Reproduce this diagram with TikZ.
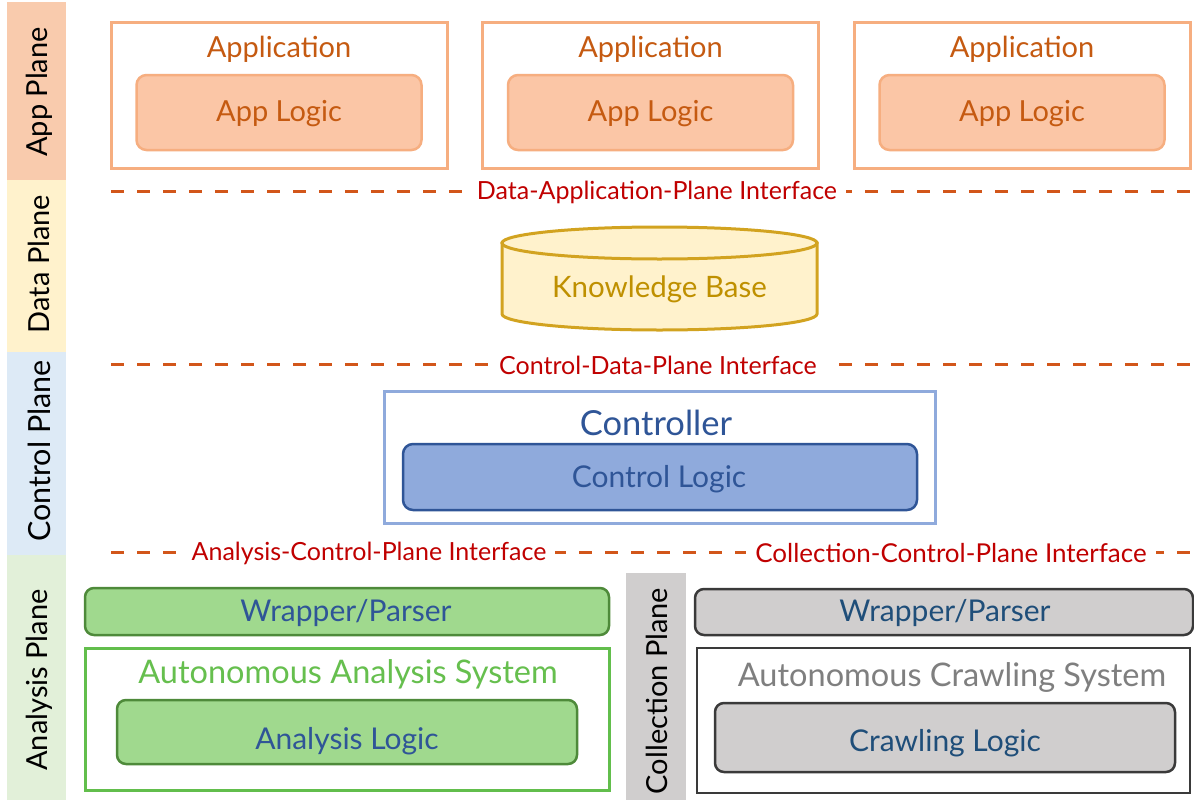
\documentclass[tikz,border=0pt]{standalone}
\usepackage{fontspec}
\setmainfont{Lato}
\definecolor{appband}{HTML}{F9CBAD}
\definecolor{databand}{HTML}{FFF2CC}
\definecolor{ctrlband}{HTML}{DDEAF6}
\definecolor{anaband}{HTML}{E2F0D9}
\definecolor{collband}{HTML}{D0CECE}
\definecolor{appborder}{HTML}{F6AE80}
\definecolor{apptext}{HTML}{C55A11}
\definecolor{applogicfill}{HTML}{FBC6A6}
\definecolor{dashcol}{HTML}{D2561A}
\definecolor{ifacetext}{HTML}{C00000}
\definecolor{kbfill}{HTML}{FFF2CC}
\definecolor{kbborder}{HTML}{D2A320}
\definecolor{kbtext}{HTML}{BF9000}
\definecolor{ctrlborder}{HTML}{8FAADC}
\definecolor{ctrltext}{HTML}{2F5597}
\definecolor{ctrlfill}{HTML}{8FAADC}
\definecolor{ctrldark}{HTML}{2F5597}
\definecolor{anafill}{HTML}{A0D98E}
\definecolor{anaborder}{HTML}{4E8A3A}
\definecolor{anabox}{HTML}{62BE4C}
\definecolor{anatitle}{HTML}{66BF4E}
\definecolor{collfill}{HTML}{D0CECE}
\definecolor{collborder}{HTML}{3A3A3A}
\definecolor{colltext}{HTML}{1F4E79}
\definecolor{colltitle}{HTML}{7F7F7F}
\begin{document}
\begin{tikzpicture}[x=1pt,y=-1pt,
  every node/.style={inner sep=0pt, outer sep=0pt},
  bandlabel/.style={rotate=90, font=\fontsize{29}{33}\selectfont, text=black},
  appouter/.style={draw=appborder, line width=3pt, fill=white},
  applogic/.style={draw=appborder, line width=2.5pt, fill=applogicfill, rounded corners=10pt},
  apptitle/.style={text=apptext, font=\fontsize{29}{33}\selectfont},
  iface/.style={text=ifacetext, fill=white, inner xsep=9pt, inner ysep=2pt, font=\fontsize{25}{29}\selectfont},
  dashline/.style={draw=dashcol, line width=3pt, dash pattern=on 13pt off 13pt},
  ctrlouter/.style={draw=ctrlborder, line width=3pt, fill=white},
  ctrllogic/.style={draw=ctrldark, line width=2.5pt, fill=ctrlfill, rounded corners=10pt},
  anabar/.style={draw=anaborder, line width=2.5pt, fill=anafill, rounded corners=9pt},
  anaouter/.style={draw=anabox, line width=3pt, fill=white},
  collbar/.style={draw=collborder, line width=2.5pt, fill=collfill, rounded corners=9pt},
  collouter/.style={draw=collborder, line width=2pt, fill=white},
  midtext/.style={font=\fontsize{30}{34}\selectfont},
  systext/.style={font=\fontsize{32.5}{36}\selectfont}
]
\useasboundingbox (0,0) rectangle (1194,803);
% plane bands
\fill[appband] (7,2) rectangle (66,180);
\fill[databand] (7,180) rectangle (66,352);
\fill[ctrlband] (7,352) rectangle (66,555);
\fill[anaband] (7,555) rectangle (66,800);
\fill[collband] (626,573) rectangle (686,800);
\node[bandlabel] (lapp) at (39,92) {App Plane};
\node[bandlabel] (ldata) at (39,264) {Data Plane};
\node[bandlabel, font=\fontsize{30.5}{34}\selectfont] (lctrl) at (39,451) {Control Plane};
\node[bandlabel] (lana) at (39,680) {Analysis Plane};
\node[bandlabel] (lcoll) at (657,691) {Collection Plane};

% applications
\foreach \i/\cx in {1/279, 2/650.5, 3/1022}{
  \node[appouter, minimum width=336pt, minimum height=146pt] (app\i) at (\cx,95) {};
  \node[apptitle] (appt\i) at (\cx,49) {Application};
  \node[applogic, minimum width=285pt, minimum height=75pt] (applog\i) at (\cx,112.5) {};
  \node[apptitle] (applogt\i) at (\cx,114) {App Logic};
}

% interface lines
\coordinate (d1a) at (111,191); \coordinate (d1b) at (1190,191);
\draw[dashline] (d1a) -- (d1b);
\node[iface] (if1) at (657,192) {Data-Application-Plane Interface};
\coordinate (d2a) at (111,364); \coordinate (d2b) at (1190,364);
\draw[dashline] (d2a) -- (d2b);
\node[iface] (if2) at (658,365) {Control-Data-Plane Interface};
\coordinate (d3a) at (111,552); \coordinate (d3b) at (1190,552);
\draw[dashline] (d3a) -- (d3b);
\node[iface] (if3) at (369,553) {Analysis-Control-Plane Interface};
\node[iface, font=\fontsize{26}{30}\selectfont] (if4) at (951,553) {Collection-Control-Plane Interface};

% knowledge base cylinder
\filldraw[fill=kbfill, draw=kbborder, line width=3pt]
  (502,243) -- (502,314) arc[start angle=180, end angle=0, x radius=157.5, y radius=16]
  -- (817,243) -- cycle;
\filldraw[fill=kbfill, draw=kbborder, line width=3pt] (659.5,243) ellipse[x radius=157.5, y radius=16];
\node[midtext, text=kbtext, font=\fontsize{29.5}{33}\selectfont] (kb) at (659.5,289) {Knowledge Base};

% controller
\node[ctrlouter, minimum width=551pt, minimum height=132pt] (ctrl) at (659.5,457) {};
\node[text=ctrltext, font=\fontsize{34.5}{38}\selectfont] (ctrlt) at (656,423) {Controller};
\node[ctrllogic, minimum width=514pt, minimum height=66pt] (ctrllog) at (660,477) {};
\node[midtext, text=ctrltext] (ctrllogt) at (659,479) {Control Logic};

% analysis plane
\node[anabar, minimum width=524pt, minimum height=47pt] (anawrap) at (347,611.5) {};
\node[midtext, text=ctrltext] (anawrapt) at (346,613) {Wrapper/Parser};
\node[anaouter, minimum width=524pt, minimum height=142pt] (anasys) at (347,719) {};
\node[systext, text=anatitle] (anasyst) at (348,674) {Autonomous Analysis System};
\node[anabar, minimum width=460pt, minimum height=64pt] (analog) at (347,732) {};
\node[midtext, text=ctrltext] (analogt) at (347,741) {Analysis Logic};

% collection plane
\node[collbar, minimum width=498pt, minimum height=46pt] (collwrap) at (944,612) {};
\node[midtext, text=colltext] (collwrapt) at (945,613) {Wrapper/Parser};
\node[collouter, minimum width=493pt, minimum height=145pt] (collsys) at (943.5,720.5) {};
\node[systext, text=colltitle] (collsyst) at (952,677) {Autonomous Crawling System};
\node[collbar, minimum width=460pt, minimum height=69pt] (collog) at (945,737.5) {};
\node[midtext, text=colltext] (collogt) at (945,743) {Crawling Logic};
\end{tikzpicture}
\end{document}
